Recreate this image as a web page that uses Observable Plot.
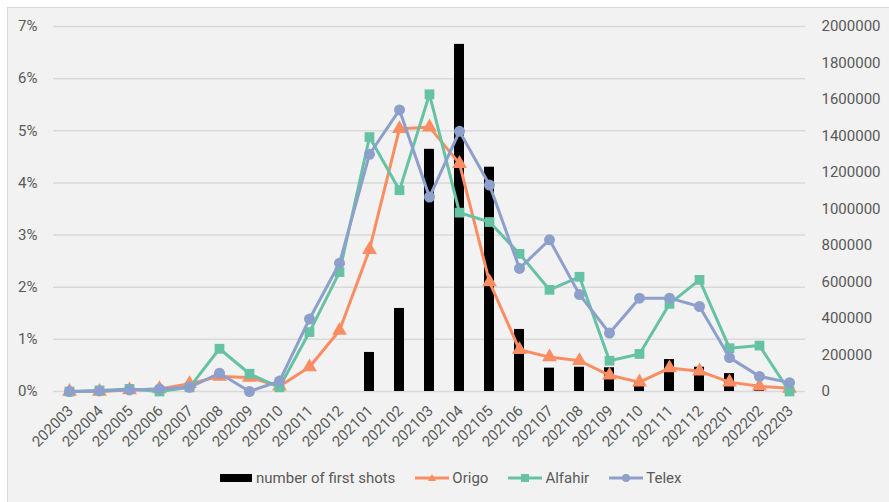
<!DOCTYPE html>
<html>
<head>
<meta charset="utf-8">
<script src="https://cdn.jsdelivr.net/npm/d3@7"></script>
<script src="https://cdn.jsdelivr.net/npm/@observablehq/plot@0.6"></script>
<style>
  html, body { margin: 0; padding: 0; background: #ffffff; }
  body { width: 889px; height: 502px; position: relative; overflow: hidden; font-family: Roboto, "Noto Sans", sans-serif; }
  #frame { position: absolute; left: 7px; top: 7px; width: 890px; height: 500px; background: #f2f2f2; border: 1px solid #d9d9d9; box-sizing: border-box; }
  #chart { position: absolute; left: 0; top: 0; }
  #legend { position: absolute; left: 220px; top: 469px; display: flex; align-items: center; font-size: 15px; color: #595959; white-space: nowrap; }
  .item { display: flex; align-items: center; margin-right: 20px; }
  .item svg { margin-right: 2px; }
</style>
</head>
<body>
<div id="frame"></div>
<div id="chart"></div>
<div id="legend"></div>
<script>
// Months (yyyymm)
const months = ["202003","202004","202005","202006","202007","202008","202009","202010","202011","202012",
  "202101","202102","202103","202104","202105","202106","202107","202108","202109","202110",
  "202111","202112","202201","202202","202203"];

// Number of first vaccine shots per month (right axis)
const firstShots = [0,0,0,0,0,0,0,0,0,0,
  214000,455000,1327000,1902000,1229000,340000,128000,133000,130000,50000,
  175000,133000,98000,20000,0];

// Share of articles per outlet, in percent (left axis)
const origo = [0,0,0.03,0.05,0.15,0.29,0.27,0.1,0.47,1.17,
  2.72,5.04,5.07,4.37,2.1,0.8,0.66,0.59,0.31,0.18,
  0.45,0.39,0.18,0.1,0.06];
const alfahir = [0,0.02,0.05,0,0.08,0.82,0.34,0.08,1.14,2.29,
  4.88,3.86,5.7,3.43,3.25,2.64,1.95,2.2,0.59,0.72,
  1.68,2.14,0.83,0.88,0];
const telex = [0,0.01,0.03,0.05,0.08,0.35,0,0.2,1.39,2.46,
  4.55,5.4,3.73,4.99,3.96,2.36,2.91,1.86,1.12,1.79,
  1.79,1.63,0.65,0.29,0.17];

// Axis ticks
const leftTicks = [0,1,2,3,4,5,6,7];
const rightTicks = [0,200000,400000,600000,800000,1000000,1200000,1400000,1600000,1800000,2000000];
const rightMax = 2000000, leftMax = 7;
const toLeft = c => c * leftMax / rightMax;

const colors = {Origo: "#fc8d62", Alfahir: "#66c2a5", Telex: "#8da0cb"};
const symbols = {Origo: "triangle", Alfahir: "square", Telex: "circle"};

const bars = months.map((m, i) => ({month: m, shots: firstShots[i]}));
const seriesDefs = [["Origo", origo], ["Alfahir", alfahir], ["Telex", telex]];

const lineMarks = seriesDefs.flatMap(([name, vals]) => {
  const rows = months.map((m, i) => ({month: m, value: vals[i]}));
  return [
    Plot.lineY(rows, {x: "month", y: "value", stroke: colors[name], strokeWidth: 3}),
    Plot.dot(rows, {x: "month", y: "value", fill: colors[name], symbol: symbols[name], r: 5.5})
  ];
});

const chart = Plot.plot({
  width: 889,
  height: 460,
  marginLeft: 53,
  marginRight: 84,
  marginTop: 26,
  marginBottom: 69,
  style: {background: "transparent", fontFamily: "Roboto", fontSize: "15px", color: "#595959"},
  x: {type: "band", domain: months, padding: 0},
  y: {domain: [0, leftMax]},
  marks: [
    Plot.gridY(leftTicks, {stroke: "#d9d9d9", strokeOpacity: 1, strokeWidth: 1.5}),
    Plot.barY(bars, {x: "month", y: d => toLeft(d.shots), fill: "black", insetLeft: 10, insetRight: 10}),
    ...lineMarks,
    Plot.axisY(leftTicks, {anchor: "left", tickSize: 0, tickPadding: 16, tickFormat: d => d + "%", label: null}),
    Plot.axisY(rightTicks.map(toLeft), {anchor: "right", tickSize: 0, tickPadding: 16,
      tickFormat: d => String(Math.round(d * rightMax / leftMax)), label: null}),
    Plot.axisX({tickSize: 0, tickRotate: -45, tickPadding: 6, dx: 1, dy: 11, label: null})
  ]
});
document.getElementById("chart").appendChild(chart);

// Legend
const legend = document.getElementById("legend");
function addItem(name, swatch) {
  const item = document.createElement("div");
  item.className = "item";
  item.innerHTML = swatch + `<span>${name}</span>`;
  legend.appendChild(item);
}
addItem("number of first shots", `<svg width="34" height="10"><rect x="0" y="1" width="32" height="8" fill="black"/></svg>`);
const mk = {
  Origo: c => `<path d="M17,1 L21,8 L13,8 Z" fill="${c}"/>`,
  Alfahir: c => `<rect x="13" y="1" width="8" height="8" fill="${c}"/>`,
  Telex: c => `<circle cx="17" cy="5" r="4" fill="${c}"/>`
};
for (const [name] of seriesDefs) {
  addItem(name, `<svg width="35" height="10"><line x1="0" y1="5" x2="34" y2="5" stroke="${colors[name]}" stroke-width="3"/>${mk[name](colors[name])}</svg>`);
}
</script>
</body>
</html>
